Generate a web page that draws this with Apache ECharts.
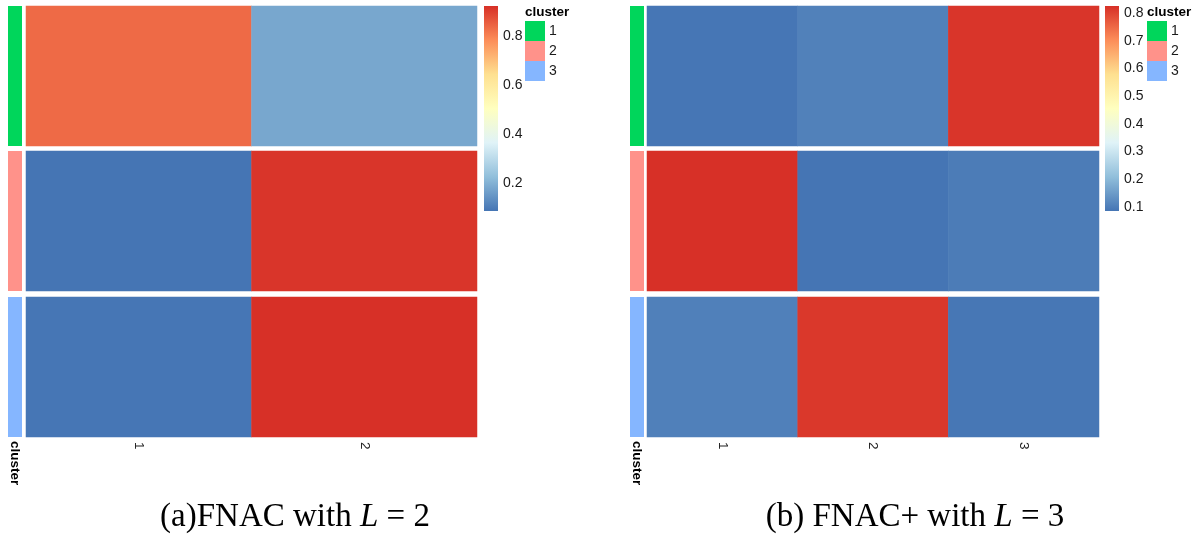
<!DOCTYPE html>
<html>
<head>
<meta charset="utf-8">
<script src="https://cdn.jsdelivr.net/npm/echarts@6/dist/echarts.min.js"></script>
<style>
  html, body { margin: 0; padding: 0; background: #ffffff; }
  #chart { width: 1203px; height: 537px; }
</style>
</head>
<body>
<div id="chart"></div>
<script>
// Row annotation: cluster of each row block
const clusterNames = ['1', '2', '3'];
const clusterColors = ['#00D65B', '#FF928A', '#85B6FF'];

// (a) FNAC, L = 2 : one row per cluster, one column per latent class
const colsA = ['1', '2'];
const valuesA = [
  [0.835, 0.180],
  [0.086, 0.914],
  [0.088, 0.922]
];
const ticksA = [0.2, 0.4, 0.6, 0.8];

// (b) FNAC+, L = 3
const colsB = ['1', '2', '3'];
const valuesB = [
  [0.088, 0.106, 0.818],
  [0.825, 0.086, 0.097],
  [0.104, 0.815, 0.090]
];
const ticksB = [0.1, 0.2, 0.3, 0.4, 0.5, 0.6, 0.7, 0.8];

const captionA = ['(a)FNAC with ', 'L', ' = 2'];
const captionB = ['(b) FNAC+ with ', 'L', ' = 3'];

// RdYlBu ramp (blue = low, red = high)
const ramp = ['#4575B4', '#91BFDB', '#E0F3F8', '#FFFFBF', '#FEE090', '#FC8D59', '#D73027'];

const SANS = '"Liberation Sans", Arial, sans-serif';
const SERIF = '"Liberation Serif", "DejaVu Serif", serif';

// block geometry shared by both panels
const rowTops = [6, 151, 297];
const rowH = 140;
const barTop = 6, barH = 205;

const panels = [
  { cols: colsA, values: valuesA, ticks: ticksA, caption: captionA, capX: 295,
    annX: 8, annW: 14, heatX: 26, heatW: 451, barX: 484, legX: 525 },
  { cols: colsB, values: valuesB, ticks: ticksB, caption: captionB, capX: 915,
    annX: 630, annW: 14, heatX: 647, heatW: 452, barX: 1105, legX: 1147 }
];

const grid = [], xAxis = [], yAxis = [], series = [], visualMap = [], legend = [], graphic = [];

panels.forEach(function (p) {
  const flat = p.values.flat();
  const vmin = Math.min.apply(null, flat);
  const vmax = Math.max.apply(null, flat);
  const heatSeries = [];

  p.values.forEach(function (row, r) {
    const last = r === p.values.length - 1;

    // heatmap block for this cluster
    let gi = grid.length;
    grid.push({ left: p.heatX, top: rowTops[r], width: p.heatW, height: rowH });
    xAxis.push({
      type: 'category', gridIndex: gi, data: p.cols,
      axisLine: { show: false }, axisTick: { show: false }, splitLine: { show: false },
      axisLabel: { show: last, rotate: -90, margin: 5, fontSize: 13.5, color: '#222', fontFamily: SANS }
    });
    yAxis.push({ type: 'category', gridIndex: gi, data: [clusterNames[r]], show: false });
    heatSeries.push(series.length);
    series.push({
      type: 'heatmap', xAxisIndex: gi, yAxisIndex: gi,
      data: row.map(function (v, c) { return [c, 0, v]; }),
      emphasis: { disabled: true }
    });

    // annotation strip for this cluster
    gi = grid.length;
    grid.push({ left: p.annX, top: rowTops[r], width: p.annW, height: rowH });
    xAxis.push({
      type: 'category', gridIndex: gi, data: ['cluster'],
      axisLine: { show: false }, axisTick: { show: false }, splitLine: { show: false },
      axisLabel: { show: last, rotate: -90, margin: 4, fontSize: 13.5, fontWeight: 'bold',
                   color: '#000', fontFamily: SANS }
    });
    yAxis.push({ type: 'category', gridIndex: gi, data: [clusterNames[r]], show: false });
    series.push({
      type: 'custom', name: clusterNames[r], xAxisIndex: gi, yAxisIndex: gi,
      itemStyle: { color: clusterColors[r] },
      data: [[0, 0]],
      renderItem: function (params, api) {
        const c = api.coord([api.value(0), api.value(1)]);
        const s = api.size([1, 1]);
        return {
          type: 'rect',
          shape: { x: c[0] - s[0] / 2, y: c[1] - s[1] / 2, width: s[0], height: s[1] },
          style: { fill: api.visual('color') }
        };
      }
    });
  });

  // colour mapping for the cells
  visualMap.push({
    type: 'continuous', min: vmin, max: vmax, seriesIndex: heatSeries,
    inRange: { color: ramp }, show: false
  });

  // colour key: gradient bar on its own value axis, with value labels
  const gb = grid.length;
  grid.push({ left: p.barX, top: barTop, width: 14, height: barH });
  xAxis.push({ type: 'value', gridIndex: gb, min: 0, max: 1, show: false });
  yAxis.push({
    type: 'value', gridIndex: gb, min: vmin, max: vmax, position: 'right',
    axisLine: { show: false }, axisTick: { show: false }, splitLine: { show: false },
    axisLabel: { customValues: p.ticks, margin: 5, fontSize: 14, color: '#1a1a1a', fontFamily: SANS,
                 formatter: function (v) { return v.toFixed(1); } }
  });
  series.push({
    type: 'custom', xAxisIndex: gb, yAxisIndex: gb, silent: true,
    data: [[0, vmin, 1, vmax]],
    renderItem: function (params, api) {
      const lo = api.coord([api.value(0), api.value(1)]);
      const hi = api.coord([api.value(2), api.value(3)]);
      const stops = ramp.map(function (col, i) { return { offset: i / (ramp.length - 1), color: col }; });
      return {
        type: 'rect',
        shape: { x: lo[0], y: hi[1], width: hi[0] - lo[0], height: lo[1] - hi[1] },
        style: { fill: new echarts.graphic.LinearGradient(0, 1, 0, 0, stops) }
      };
    }
  });

  // cluster legend
  legend.push({
    data: clusterNames, orient: 'vertical', left: p.legX, top: 21,
    itemWidth: 20, itemHeight: 20, itemGap: 0, icon: 'rect', padding: 0,
    selectedMode: false,
    textStyle: { fontSize: 14, color: '#1a1a1a', fontFamily: SANS, padding: [0, 0, 0, -1] }
  });
  graphic.push({
    type: 'text', left: p.legX, top: 5,
    style: { text: 'cluster', font: 'bold 13.5px ' + SANS, fill: '#000' }
  });

  // panel caption
  graphic.push({
    type: 'text', x: p.capX, y: 517,
    style: {
      text: '{n|' + p.caption[0] + '}{i|' + p.caption[1] + '}{n|' + p.caption[2] + '}',
      align: 'center', verticalAlign: 'middle',
      rich: {
        n: { fontFamily: SERIF, fontSize: 33, fill: '#000' },
        i: { fontFamily: SERIF, fontSize: 33, fontStyle: 'italic', fill: '#000' }
      }
    }
  });
});

const chart = echarts.init(document.getElementById('chart'), null, { renderer: 'canvas' });
chart.setOption({
  backgroundColor: '#ffffff',
  animation: false,
  grid: grid, xAxis: xAxis, yAxis: yAxis,
  visualMap: visualMap, legend: legend,
  series: series, graphic: graphic
});
</script>
</body>
</html>
